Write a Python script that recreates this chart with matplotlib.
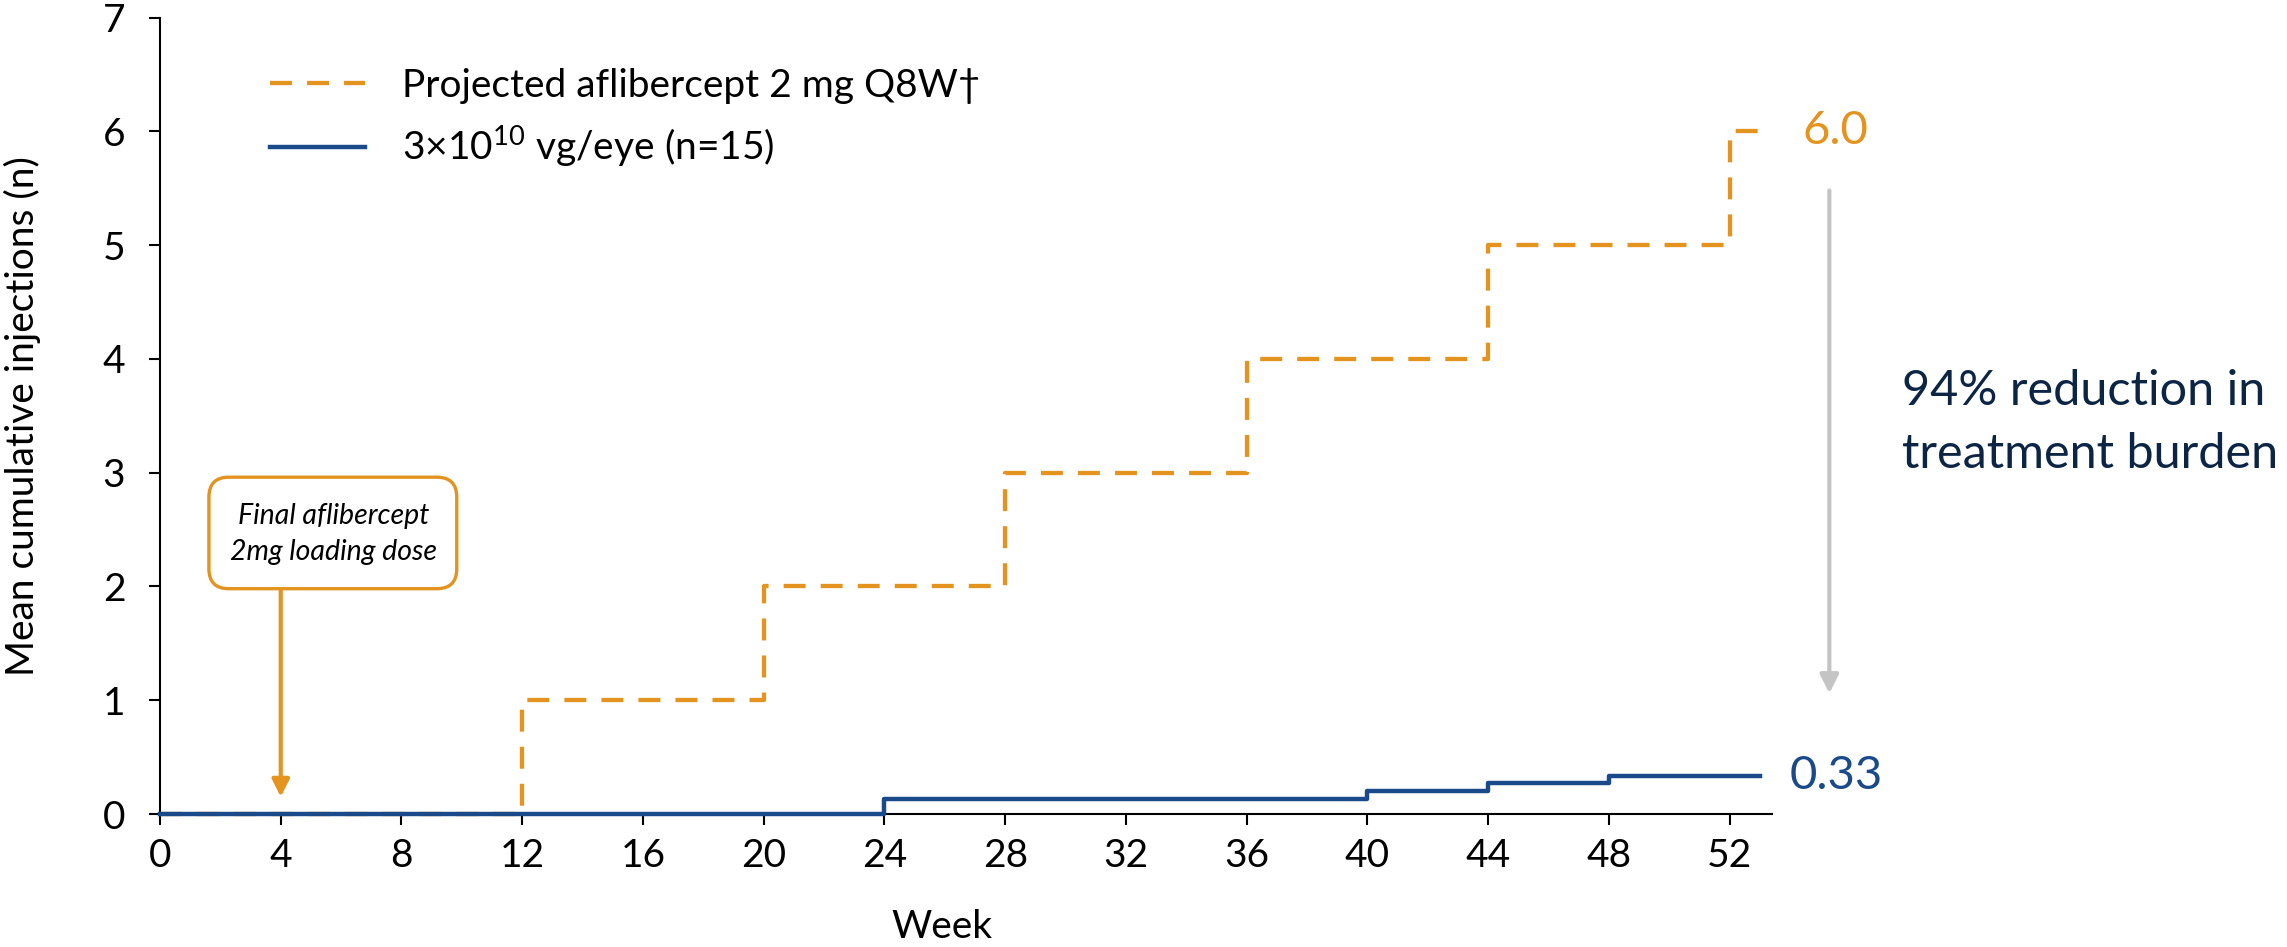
import matplotlib
matplotlib.use("Agg")
import matplotlib.pyplot as plt
from matplotlib.patches import FancyBboxPatch

# Series data
orange_weeks = [0, 12, 20, 28, 36, 44, 52, 53.4]
orange_values = [0, 1, 2, 3, 4, 5, 6, 6]
blue_weeks = [0, 24, 40, 44, 48, 53]
blue_values = [0, 0.13, 0.20, 0.27, 0.33, 0.33]

x_ticks = list(range(0, 53, 4))
y_ticks = list(range(0, 8))

orange_label = "Projected aflibercept 2 mg Q8W\u2020"
blue_label = "3\u00d710$^{\\mathregular{10}}$ vg/eye (n=15)"
final_orange = 6.0
final_blue = 0.33

ORANGE = "#E3931E"
BLUE = "#1B4A8A"
NAVY = "#0C2545"
GREY = "#C4C4C4"

plt.rcParams["font.family"] = ["Lato", "DejaVu Sans"]
plt.rcParams["mathtext.fontset"] = "custom"
plt.rcParams["mathtext.rm"] = "Lato"

W, H = 2287, 947
fig = plt.figure(figsize=(W / 100, H / 100), dpi=100)
ax = fig.add_axes([160 / W, 1 - 814 / H, (1772 - 160) / W, (814 - 17.5) / H])

ax.step(orange_weeks, orange_values, where="post", color=ORANGE, lw=3.1,
        linestyle=(0, (5.1, 3.5)), clip_on=False, label=orange_label, zorder=3)
ax.step(blue_weeks, blue_values, where="post", color=BLUE, lw=3.2,
        clip_on=False, label=blue_label, zorder=4)

ax.set_xlim(0, 53.4)
ax.set_ylim(0, 7)
ax.set_xticks(x_ticks)
ax.set_yticks(y_ticks)
ax.tick_params(axis="both", direction="out", length=8, width=1.5, labelsize=28, color="black")
ax.tick_params(axis="y", pad=17)
ax.tick_params(axis="x", pad=9)
for s in ["top", "right"]:
    ax.spines[s].set_visible(False)
for s in ["left", "bottom"]:
    ax.spines[s].set_linewidth(1.5)

ax.set_xlabel("Week", fontsize=28, va="center")
ax.xaxis.set_label_coords(0.485, (814 - 927) / (814 - 17.5))
ax.set_ylabel("Mean cumulative injections (n)", fontsize=28, va="center")
ax.yaxis.set_label_coords((22 - 160) / (1772 - 160), 0.5)

leg = ax.legend(loc="upper left", bbox_to_anchor=(270 / W, 1 - 68 / H),
                bbox_transform=fig.transFigure, frameon=False, fontsize=28,
                handlelength=2.44, handletextpad=0.95, labelspacing=0.5,
                borderpad=0, borderaxespad=0)

# End-of-line value labels
ax.text(54.4, final_orange, f"{final_orange:.1f}", color=ORANGE, fontsize=34,
        ha="left", va="center")
ax.text(54.0, final_blue, f"{final_blue:.2f}", color=BLUE, fontsize=34,
        ha="left", va="center")

# Reduction arrow and caption
ax.annotate("", xy=(55.3, 1.06), xytext=(55.3, 5.48), annotation_clip=False,
            arrowprops=dict(arrowstyle="-|>", color=GREY, lw=3, mutation_scale=28,
                            shrinkA=0, shrinkB=0))
ax.text(57.7, 3.44, "94% reduction in\ntreatment burden", color=NAVY, fontsize=35,
        ha="left", va="center", linespacing=1.55)

# Loading dose callout
px_per_week = (1772 - 160) / 53.4
px_per_unit = (814 - 17.5) / 7
callout = FancyBboxPatch((1.62, 1.98), 8.21, 0.98,
                         boxstyle="round,pad=0,rounding_size=0.66",
                         mutation_aspect=px_per_week / px_per_unit,
                         fc="white", ec=ORANGE, lw=2.4, zorder=5)
ax.add_patch(callout)
ax.text(5.75, 2.46, "Final aflibercept\n2mg loading dose", fontsize=20.5, style="italic",
        ha="center", va="center", linespacing=1.5, zorder=6)
ax.annotate("", xy=(4, 0.15), xytext=(4, 1.98),
            arrowprops=dict(arrowstyle="-|>", color=ORANGE, lw=3, mutation_scale=26,
                            shrinkA=0, shrinkB=0))

fig.savefig("out.png", dpi=100)
